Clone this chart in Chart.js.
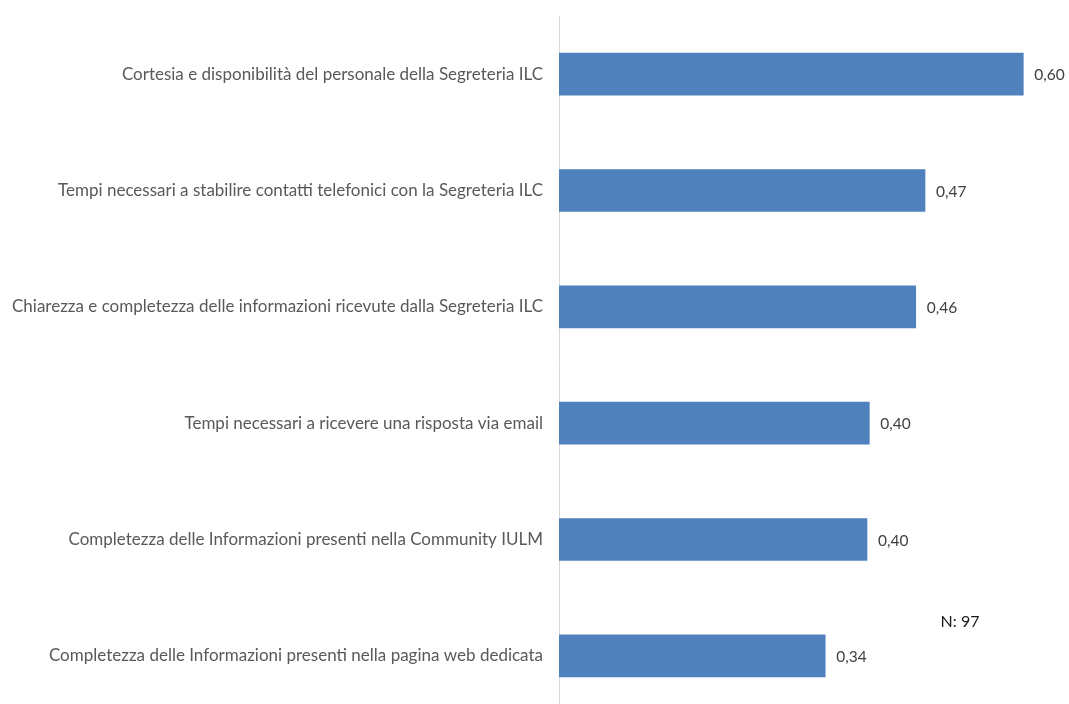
<!DOCTYPE html>
<html>
<head>
<meta charset="utf-8">
<script src="https://cdn.jsdelivr.net/npm/chart.js@4/dist/chart.umd.min.js"></script>
<style>
  html, body { margin: 0; padding: 0; background: #ffffff; overflow: hidden; }
  #wrap { position: relative; width: 1069px; height: 714px; }
</style>
</head>
<body>
<div id="wrap"><canvas id="c"></canvas></div>
<script>
const categories = [
  "Cortesia e disponibilità del personale della Segreteria ILC",
  "Tempi necessari a stabilire contatti telefonici con la Segreteria ILC",
  "Chiarezza e completezza delle informazioni ricevute dalla Segreteria ILC",
  "Tempi necessari a ricevere una risposta via email",
  "Completezza delle Informazioni presenti nella Community IULM",
  "Completezza delle Informazioni presenti nella pagina web dedicata"
];
const values = [0.60, 0.473, 0.461, 0.401, 0.398, 0.344];
const noteText = "N: 97";

const FONT = "Lato, 'Open Sans', sans-serif";

const valueLabels = {
  id: 'valueLabels',
  afterDatasetsDraw(chart) {
    const ctx = chart.ctx;
    const meta = chart.getDatasetMeta(0);
    ctx.save();
    ctx.font = "15.5px " + FONT;
    ctx.fillStyle = "#404040";
    ctx.textAlign = "left";
    ctx.textBaseline = "middle";
    meta.data.forEach((bar, i) => {
      const txt = values[i].toFixed(2).replace('.', ',');
      ctx.fillText(txt, bar.x + 11, bar.y + 1);
    });
    ctx.fillStyle = "#1a1a1a";
    ctx.textAlign = "center";
    ctx.font = "16px " + FONT;
    ctx.fillText(noteText, 960, 622);
    ctx.restore();
  }
};

new Chart(document.getElementById('c'), {
  type: 'bar',
  data: {
    labels: categories,
    datasets: [{
      data: values,
      backgroundColor: '#4f81bd',
      borderWidth: 0,
      barThickness: 42
    }]
  },
  options: {
    indexAxis: 'y',
    responsive: true,
    maintainAspectRatio: false,
    animation: false,
    events: [],
    layout: { padding: { top: 16, bottom: 0, left: 0, right: 7 } },
    plugins: {
      legend: { display: false },
      tooltip: { enabled: false },
      title: { display: false }
    },
    scales: {
      x: {
        display: false,
        min: 0,
        max: 0.65
      },
      y: {
        afterFit(scale) {
          scale.width = 559;
          scale.paddingTop = 0;
          scale.paddingBottom = 0;
        },
        grid: { display: false, drawTicks: false },
        border: { display: true, color: '#d9d9d9', width: 1 },
        ticks: {
          padding: 16,
          color: '#595959',
          font: { family: FONT, size: 17 }
        }
      }
    }
  },
  plugins: [valueLabels]
});
</script>
</body>
</html>
